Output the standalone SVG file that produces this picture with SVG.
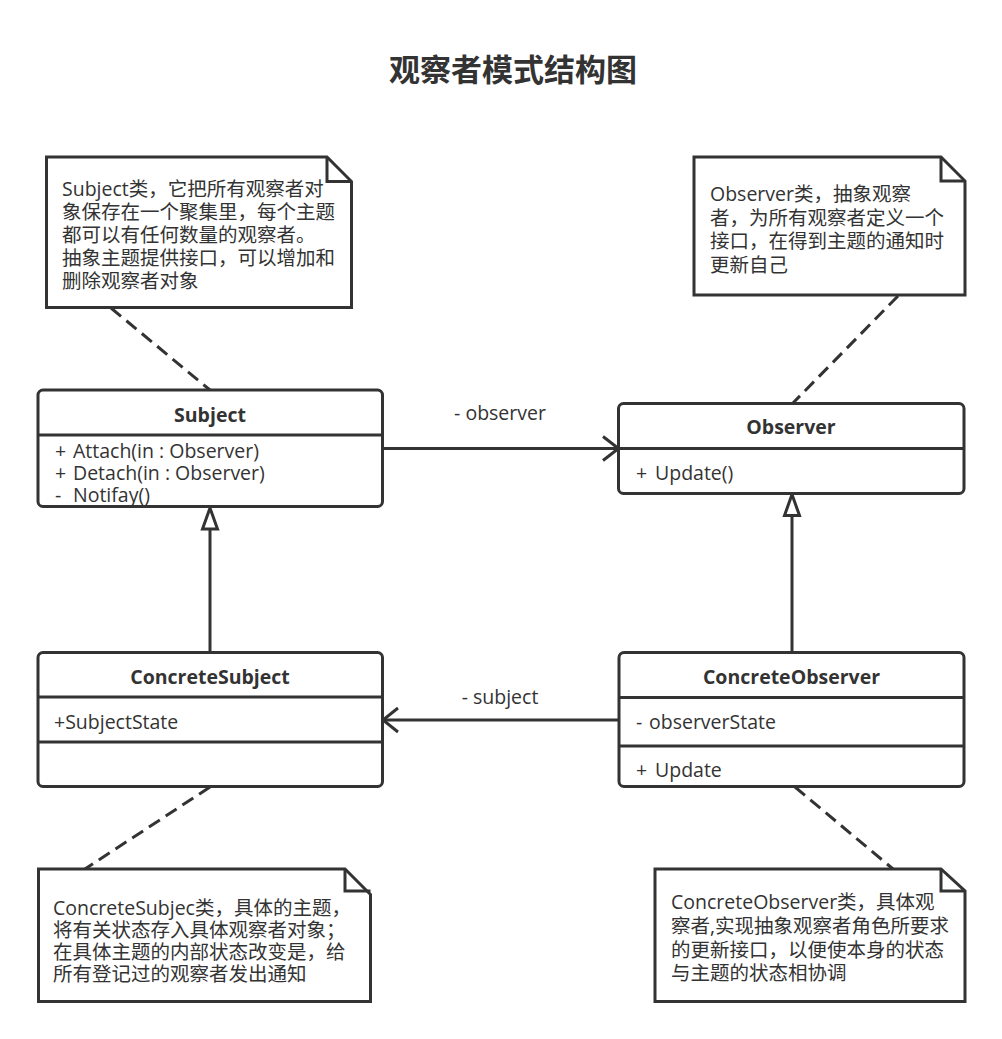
<svg xmlns="http://www.w3.org/2000/svg" width="1002" height="1039" viewBox="0 0 1002 1039">
<style>
.bg{fill:#ffffff}
.box{fill:#ffffff;stroke:#333333;stroke-width:3}
.div{stroke:#333333;stroke-width:3;fill:none}
.note{fill:#ffffff;stroke:#333333;stroke-width:3;stroke-linejoin:miter}
.fold{fill:none;stroke:#333333;stroke-width:3}
.t{font-family:"Open Sans","Noto Sans CJK SC",sans-serif;font-size:19.5px;fill:#333333}
.b{font-family:"Open Sans","Noto Sans CJK SC",sans-serif;font-size:19.5px;font-weight:bold;fill:#333333}
.title{font-family:"Noto Sans CJK SC",sans-serif;font-size:31px;font-weight:bold;fill:#333333}
.line{stroke:#333333;stroke-width:3;fill:none}
.dash{stroke:#333333;stroke-width:3;fill:none;stroke-dasharray:13 7}
.tri{fill:#ffffff;stroke:#333333;stroke-width:3;stroke-linejoin:miter}
</style>
<rect class="bg" x="0" y="0" width="1002" height="1039"/>
<text class="title" x="513" y="81" text-anchor="middle">观察者模式结构图</text>

<g id="connectors">
  <line class="dash" x1="111" y1="308" x2="210" y2="390"/>
  <line class="dash" x1="898" y1="296" x2="793" y2="403"/>
  <line class="dash" x1="210" y1="787" x2="85" y2="869"/>
  <line class="dash" x1="795" y1="787" x2="893" y2="869"/>
  <line class="line" x1="382.5" y1="448.5" x2="618" y2="448.5"/>
  <polyline class="line" points="603,436.5 618.5,448.5 603,460.5"/>
  <line class="line" x1="619" y1="720" x2="383" y2="720"/>
  <polyline class="line" points="398,708 383,720 398,732"/>
  <line class="line" x1="210" y1="652.5" x2="210" y2="529"/>
  <polygon class="tri" points="210,508 202.5,529 217.5,529"/>
  <line class="line" x1="792" y1="652.5" x2="792" y2="515.5"/>
  <polygon class="tri" points="792,494.5 784.5,515.5 799.5,515.5"/>
  <text class="t" x="500" y="420" text-anchor="middle">- observer</text>
  <text class="t" x="500" y="704" text-anchor="middle">- subject</text>
</g>

<g id="subject-note">
  <polygon class="note" points="46.5,157 327,157 351.5,181.5 351.5,307.5 46.5,307.5"/>
  <polyline class="fold" points="327,157 327,181.5 351.5,181.5"/>
  <text class="t" x="62" y="196">Subject类，它把所有观察者对</text>
  <text class="t" x="62" y="219">象保存在一个聚集里，每个主题</text>
  <text class="t" x="62" y="242">都可以有任何数量的观察者。</text>
  <text class="t" x="62" y="265">抽象主题提供接口，可以增加和</text>
  <text class="t" x="62" y="288">删除观察者对象</text>
</g>

<g id="observer-note">
  <polygon class="note" points="694,157 941,157 965,181 965,295 694,295"/>
  <polyline class="fold" points="941,157 941,181 965,181"/>
  <text class="t" x="710" y="201">Observer类，抽象观察</text>
  <text class="t" x="710" y="224.5">者，为所有观察者定义一个</text>
  <text class="t" x="710" y="248">接口，在得到主题的通知时</text>
  <text class="t" x="710" y="271.5">更新自己</text>
</g>

<g id="subject">
  <rect class="box" x="38" y="390" width="344.5" height="116.5" rx="5"/>
  <line class="div" x1="38" y1="435" x2="382.5" y2="435"/>
  <text class="b" x="210" y="422" text-anchor="middle">Subject</text>
  <text class="t" y="458"><tspan x="55">+</tspan><tspan x="73">Attach(in : Observer)</tspan></text>
  <text class="t" y="480"><tspan x="55">+</tspan><tspan x="73">Detach(in : Observer)</tspan></text>
  <text class="t" y="502"><tspan x="55">-</tspan><tspan x="73">Notifay()</tspan></text>
</g>

<g id="observer">
  <rect class="box" x="618.5" y="403.5" width="345.5" height="90" rx="5"/>
  <line class="div" x1="618.5" y1="448.5" x2="964" y2="448.5"/>
  <text class="b" x="791" y="434" text-anchor="middle">Observer</text>
  <text class="t" y="480"><tspan x="636">+</tspan><tspan x="655">Update()</tspan></text>
</g>

<g id="concrete-subject">
  <rect class="box" x="38" y="652.5" width="344.5" height="134" rx="5"/>
  <line class="div" x1="38" y1="697" x2="382.5" y2="697"/>
  <line class="div" x1="38" y1="742" x2="382.5" y2="742"/>
  <text class="b" x="210" y="684" text-anchor="middle">ConcreteSubject</text>
  <text class="t" x="54" y="728.5">+SubjectState</text>
</g>

<g id="concrete-observer">
  <rect class="box" x="619" y="652.5" width="345" height="134" rx="5"/>
  <line class="div" x1="619" y1="697.5" x2="964" y2="697.5"/>
  <line class="div" x1="619" y1="746" x2="964" y2="746"/>
  <text class="b" x="791.5" y="684" text-anchor="middle">ConcreteObserver</text>
  <text class="t" y="728.5"><tspan x="636">-</tspan><tspan x="649">observerState</tspan></text>
  <text class="t" y="777"><tspan x="636">+</tspan><tspan x="655">Update</tspan></text>
</g>

<g id="concrete-subject-note">
  <polygon class="note" points="38.5,869 345,869 370.5,894.5 370.5,1001.5 38.5,1001.5"/>
  <polyline class="fold" points="345,869 345,891 370.5,891"/>
  <text class="t" x="53" y="915">ConcreteSubjec类，具体的主题，</text>
  <text class="t" x="53" y="937">将有关状态存入具体观察者对象；</text>
  <text class="t" x="53" y="959">在具体主题的内部状态改变是，给</text>
  <text class="t" x="53" y="981">所有登记过的观察者发出通知</text>
</g>

<g id="concrete-observer-note">
  <polygon class="note" points="655,869 941,869 965,891 965,1001.5 655,1001.5"/>
  <polyline class="fold" points="941,869 941,891 965,891"/>
  <text class="t" x="671" y="909">ConcreteObserver类，具体观</text>
  <text class="t" x="671" y="933">察者,实现抽象观察者角色所要求</text>
  <text class="t" x="671" y="956.5">的更新接口，以便使本身的状态</text>
  <text class="t" x="671" y="980">与主题的状态相协调</text>
</g>
</svg>
